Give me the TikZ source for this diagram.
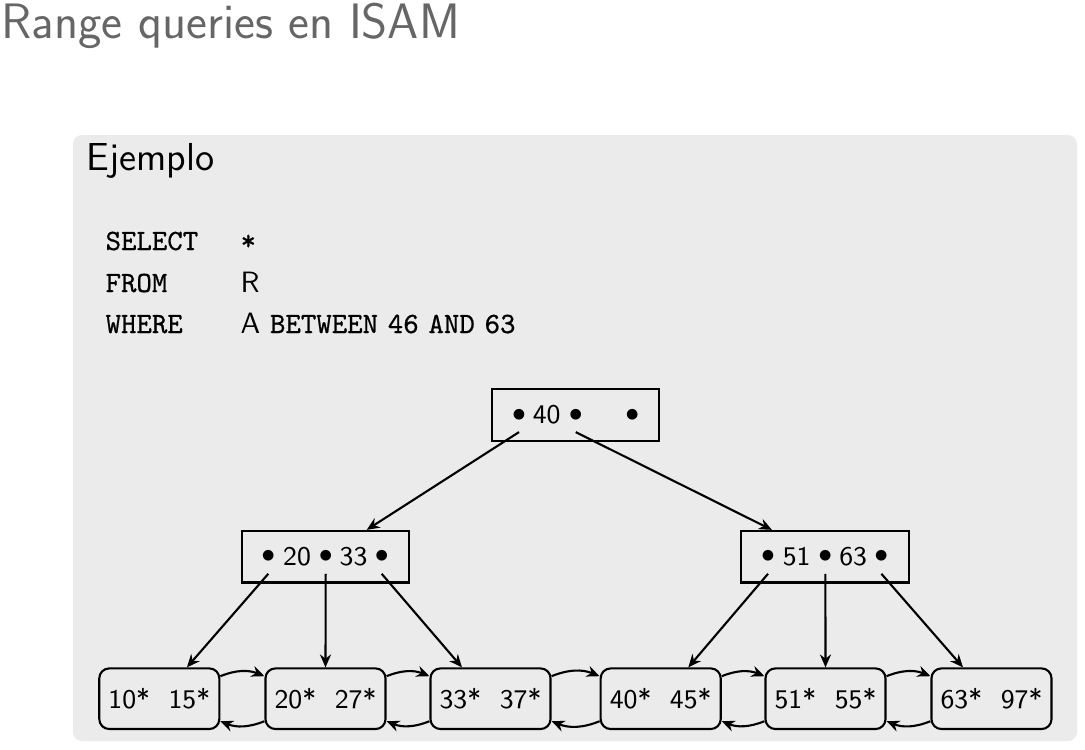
\documentclass[tikz,border=0pt]{standalone}
\usepackage{fontspec}
\setmonofont[FakeBold=0.7]{Latin Modern Mono}
\usepackage{tikz}
\usetikzlibrary{arrows,arrows.meta}
\definecolor{titlegray}{RGB}{102,102,102}
\definecolor{blockgray}{RGB}{235,235,235}

\begin{document}
\begin{tikzpicture}[x=0.3333pt,y=-0.3333pt,font=\sffamily,>={Stealth[length=4.3pt,width=3.7pt,inset=1.4pt]},
    inner/.style={draw,line width=0.7pt,minimum width=55.8pt,minimum height=17.2pt,inner sep=0pt},
    leaf/.style={draw,line width=0.7pt,rounded corners=3.3pt,minimum width=40pt,minimum height=20.2pt,
      inner sep=0pt,font=\sffamily\fontsize{9}{11}\selectfont},
    key/.style={inner sep=0pt,font=\sffamily\fontsize{9}{11}\selectfont},
    ptr/.style={inner sep=0pt,font=\fontsize{9}{11}\selectfont},
    sql/.style={anchor=base west,inner sep=0pt,font=\ttfamily\fontsize{9.8}{12}\selectfont},
    edge/.style={->,line width=0.7pt},
    link/.style={->,line width=0.7pt}]
  \useasboundingbox (0,0) rectangle (1085,749);
  % title and block
  \node[anchor=base west,inner sep=0pt,text=titlegray,font=\sffamily\fontsize{16.6}{20}\selectfont]
    (title) at (1,38.5) {Range queries en ISAM};
  \fill[blockgray,rounded corners=3pt] (73,135) rectangle (1077,741);
  \node[anchor=base west,inner sep=0pt,font=\sffamily\fontsize{13}{16}\selectfont]
    (block) at (86,170) {Ejemplo};
  % the query
  \node[sql] (select) at (105,250) {SELECT};
  \node[sql] (from) at (105,292) {FROM};
  \node[sql] (where) at (105,333) {WHERE};
  \node[sql] (star) at (240,250) {*};
  \node[sql,font=\sffamily\fontsize{9.8}{12}\selectfont] (rel) at (240,292) {R};
  \node[sql,font=\sffamily\fontsize{9.8}{12}\selectfont] (cond) at (240,333)
    {A \texttt{BETWEEN} \texttt{46} \texttt{AND} \texttt{63}};
  % define the index nodes
  \node[inner] (root) at (575.3,415.2) {};
  \node[ptr] (root-p1) at (519,415) {$\bullet$};
  \node[key] (root-k1) at (546.7,415) {40};
  \node[ptr] (root-p2) at (575.7,415) {$\bullet$};
  \node[ptr] (root-p3) at (632.3,415) {$\bullet$};
  \node[inner] (midl) at (325.3,556.7) {};
  \node[ptr] (midl-p1) at (268.3,556.7) {$\bullet$};
  \node[key] (midl-k1) at (297,556.7) {20};
  \node[ptr] (midl-p2) at (325.7,556.7) {$\bullet$};
  \node[key] (midl-k2) at (353.5,556.7) {33};
  \node[ptr] (midl-p3) at (381.7,556.7) {$\bullet$};
  \node[inner] (midr) at (825,556.7) {};
  \node[ptr] (midr-p1) at (768,556.7) {$\bullet$};
  \node[key] (midr-k1) at (796.7,556.7) {51};
  \node[ptr] (midr-p2) at (825.4,556.7) {$\bullet$};
  \node[key] (midr-k2) at (853.2,556.7) {63};
  \node[ptr] (midr-p3) at (881.4,556.7) {$\bullet$};
  % define the leaf pages
  \node[leaf] (leaf1) at (159.3,698.7) {10*~~15*};
  \node[leaf] (leaf2) at (325.5,698.7) {20*~~27*};
  \node[leaf] (leaf3) at (490.5,698.7) {33*~~37*};
  \node[leaf] (leaf4) at (660.7,698.7) {40*~~45*};
  \node[leaf] (leaf5) at (825.5,698.7) {51*~~55*};
  \node[leaf] (leaf6) at (991.5,698.7) {63*~~97*};
  % draw the pointers
  \draw[edge] ([yshift=-5.7pt]root-p1.center) -- ([xshift=13.8pt]midl.north);
  \draw[edge] ([yshift=-5.7pt]root-p2.center) -- ([xshift=-17.7pt]midr.north);
  \draw[edge] ([yshift=-5.7pt]midl-p1.center) -- ([xshift=9.2pt]leaf1.north);
  \draw[edge] ([yshift=-5.7pt]midl-p2.center) -- (leaf2.north);
  \draw[edge] ([yshift=-5.7pt]midl-p3.center) -- ([xshift=-9.5pt]leaf3.north);
  \draw[edge] ([yshift=-5.7pt]midr-p1.center) -- ([xshift=9.2pt]leaf4.north);
  \draw[edge] ([yshift=-5.7pt]midr-p2.center) -- (leaf5.north);
  \draw[edge] ([yshift=-5.7pt]midr-p3.center) -- ([xshift=-9.5pt]leaf6.north);
  % draw the sibling links
  \draw[link] ([yshift=7.5pt]leaf1.east) to[bend left=22] ([yshift=7.5pt]leaf2.west);
  \draw[link] ([yshift=-7.5pt]leaf2.west) to[bend left=22] ([yshift=-7.5pt]leaf1.east);
  \draw[link] ([yshift=7.5pt]leaf2.east) to[bend left=22] ([yshift=7.5pt]leaf3.west);
  \draw[link] ([yshift=-7.5pt]leaf3.west) to[bend left=22] ([yshift=-7.5pt]leaf2.east);
  \draw[link] ([yshift=7.5pt]leaf3.east) to[bend left=22] ([yshift=7.5pt]leaf4.west);
  \draw[link] ([yshift=-7.5pt]leaf4.west) to[bend left=22] ([yshift=-7.5pt]leaf3.east);
  \draw[link] ([yshift=7.5pt]leaf4.east) to[bend left=22] ([yshift=7.5pt]leaf5.west);
  \draw[link] ([yshift=-7.5pt]leaf5.west) to[bend left=22] ([yshift=-7.5pt]leaf4.east);
  \draw[link] ([yshift=7.5pt]leaf5.east) to[bend left=22] ([yshift=7.5pt]leaf6.west);
  \draw[link] ([yshift=-7.5pt]leaf6.west) to[bend left=22] ([yshift=-7.5pt]leaf5.east);
\end{tikzpicture}
\end{document}
